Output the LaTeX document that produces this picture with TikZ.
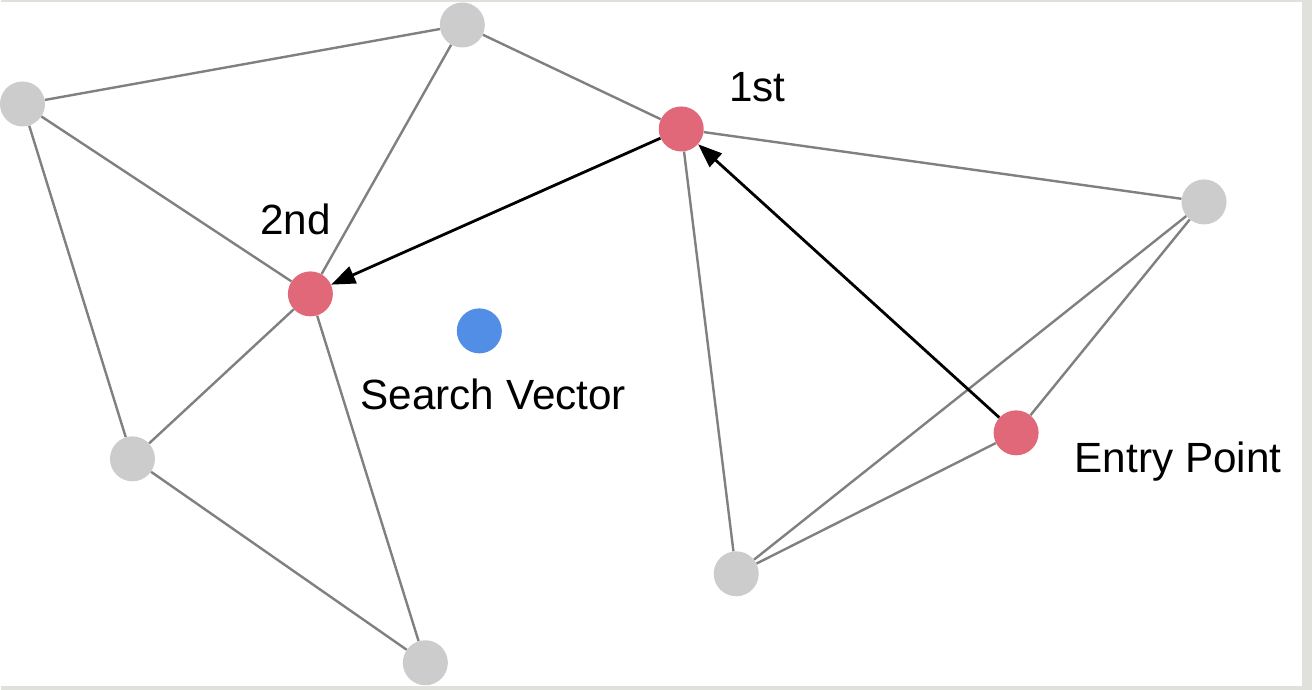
\documentclass[tikz,border=0pt]{standalone}
\usepackage{fontspec}
\setmainfont{Liberation Sans}
\usepackage{xcolor}
\usepackage{tikz}
\usetikzlibrary{arrows.meta}

\definecolor{hitred}{RGB}{224,104,120}
\definecolor{queryblue}{RGB}{82,142,230}
\definecolor{plaingray}{RGB}{204,204,204}
\definecolor{edgegray}{RGB}{128,128,128}
\definecolor{framegray}{RGB}{225,225,220}

\begin{document}
\begin{tikzpicture}[x=0.75pt,y=0.75pt,yscale=-1,xscale=1,
  vec/.style={circle,inner sep=0pt,minimum size=33.75pt},
  plain/.style={vec,fill=plaingray},
  hit/.style={vec,fill=hitred},
  query/.style={vec,fill=queryblue},
  link/.style={draw=edgegray,line width=1.8pt},
  hop/.style={draw=black,line width=2.1pt,-{Triangle[length=18pt,width=13.5pt]}},
  lbl/.style={anchor=base,inner sep=0pt,font=\fontsize{31.7}{36}\selectfont}]

%Shape: Frame
\fill[framegray] (0,0) rectangle (1312,690);
\fill[white] (0,1.5) rectangle (1302,686);

%Shape: Circles
\node [plain] (top) at (462,25) {};
\node [plain] (lefttop) at (22,104) {};
\node [plain] (right) at (1204,202) {};
\node [plain] (leftbot) at (132,459) {};
\node [plain] (midbot) at (736,574) {};
\node [plain] (bottom) at (425,663) {};
\node [hit] (first) at (681,129) {};
\node [hit] (second) at (310,294) {};
\node [hit] (entry) at (1016,433) {};
\node [query] (search) at (479,331) {};

%Straight Lines
\draw [link] (lefttop) -- (top);
\draw [link] (top) -- (first);
\draw [link] (top) -- (second);
\draw [link] (lefttop) -- (second);
\draw [link] (lefttop) -- (leftbot);
\draw [link] (second) -- (leftbot);
\draw [link] (second) -- (bottom);
\draw [link] (leftbot) -- (bottom);
\draw [link] (first) -- (right);
\draw [link] (first) -- (midbot);
\draw [link] (right) -- (midbot);
\draw [link] (right) -- (entry);
\draw [link] (entry) -- (midbot);

%Arrows
\draw [hop] (entry) -- (first);
\draw [hop] (first) -- (second);

% Text Node
\node [lbl] (firstlbl) at (757,102) {1st};
% Text Node
\node [lbl] (secondlbl) at (295,235) {2nd};
% Text Node
\node [lbl] (searchlbl) at (493,410) {Search Vector};
% Text Node
\node [lbl] (entrylbl) at (1178,473) {Entry Point};

\end{tikzpicture}
\end{document}
